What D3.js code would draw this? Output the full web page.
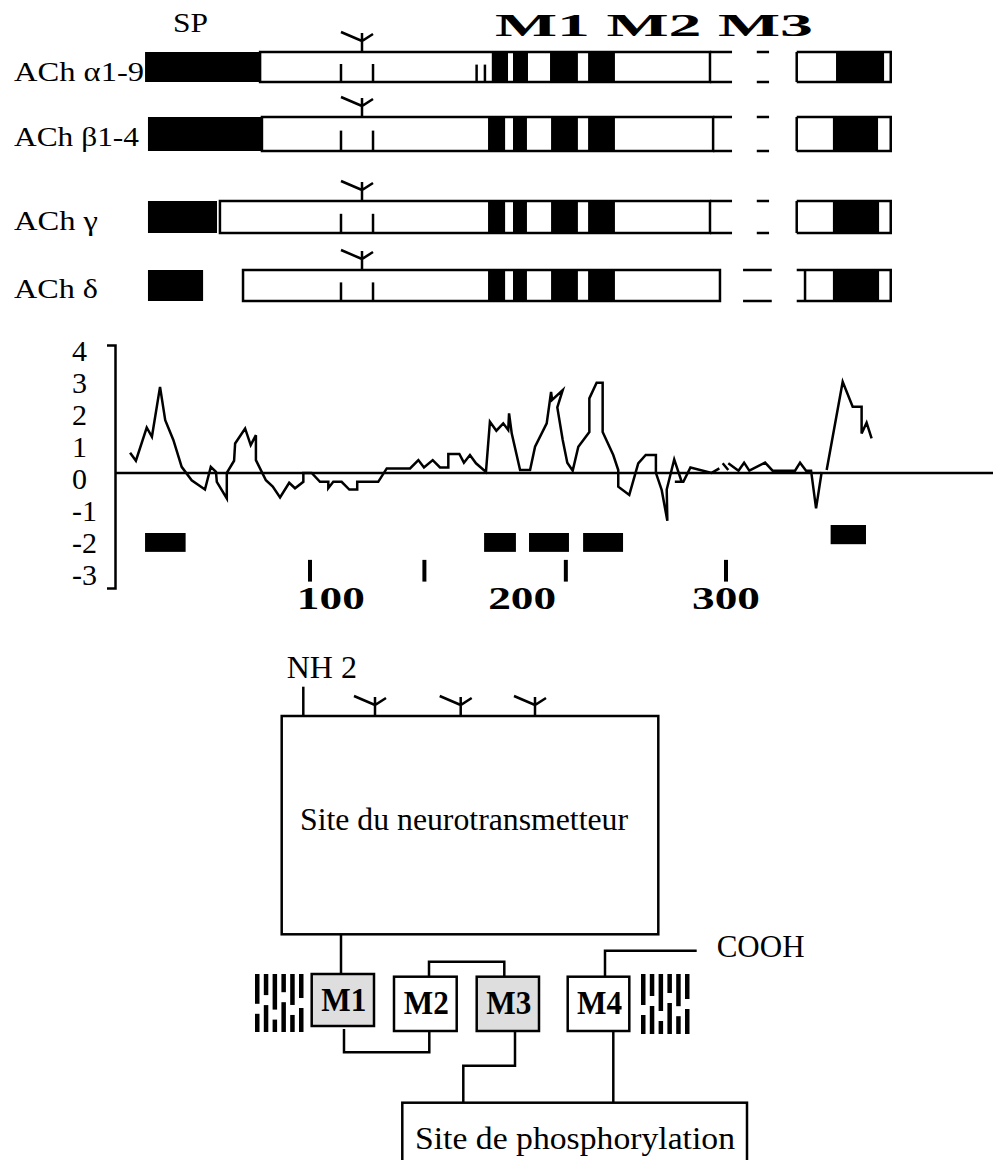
<!DOCTYPE html>
<html>
<head>
<meta charset="utf-8">
<style>
  body { margin: 0; background: #fff; }
  svg { display: block; }
  text { font-family: "Liberation Serif", "Times New Roman", serif; fill: #000; }
</style>
</head>
<body>
<div id="chart"></div>
<script src="https://d3js.org/d3.v7.min.js"></script>
<script>
// ---- data: subunit maps (positions in residue units) ----
const subunits   = ["ACh α1-9", "ACh β1-4", "ACh γ", "ACh δ"];
const spStart    = [20.7, 22.1, 22.1, 22.1];
const spEnd      = [76.0, 76.9, 55.3, 48.6];
const boxStart   = [76.0, 76.9, 56.7, 67.8];
const boxEnd     = [292.3, 293.8, 292.3, 297.1];
const boxLineEnd = [302.9, 302.9, 302.9, 297.1];
const tmBlocks = [
  [[187.4, 195.2], [197.6, 204.8], [215.4, 228.8], [233.7, 246.6]],
  [[185.6, 193.8], [197.6, 204.3], [215.9, 228.8], [233.7, 246.6]],
  [[185.6, 193.8], [197.6, 204.3], [215.9, 228.8], [233.7, 246.6]],
  [[185.6, 193.8], [197.6, 204.3], [215.9, 228.8], [233.7, 246.6]]
];
const cysTicks   = [114.9, 130.3];
const alphaTicks = [180.1, 184.1];
const glycoSite  = 125;
const dashes     = [[314.8, 320.7], [314.8, 320.7], [314.8, 320.7], [308.2, 322.0]];
const cBox       = [[334.0, 379.2], [334.0, 379.2], [334.0, 379.2], [334.0, 379.2]];
const cBoxLeft   = [334.0, 334.0, 334.0, 338.0];
const cBlack     = [[352.9, 376.0], [351.4, 373.1], [351.4, 373.6], [351.4, 373.6]];

// ---- data: hydropathy profile (null = break in the trace) ----
const hydroRes = [13.5, 16.3, 21.5, 24.0, 27.9, 30.4, 34.3, 38.3, 43.1, 49.5, 52.3, 54.8, 55.2, 60.0, 60.0,
  63.5, 64.0, 68.8, 71.5, 74.0, 74.0, 78.8, 82.1, 85.6, 90.0, 92.8, 96.8, 96.8, 100.8, 104.8, 108.8, 108.8,
  111.2, 115.2, 118.9, 122.7, 122.7, 132.8, 136.9, 148.1, 152.1, 154.8, 159.0, 162.5, 166.5, 166.5, 171.8,
  174.0, 176.9, 179.8, 184.6, 186.5, 189.6, 192.9, 195.3, 195.7, 197.0, 201.0, 205.8, 208.2, 213.8, 215.9,
  216.4, 221.5, 218.9, 221.5, 223.7, 226.3, 229.0, 234.3, 234.3, 237.8, 240.7, 240.7, 245.8, 248.2, 248.2,
  253.5, 257.8, 261.4, 266.3, 266.3, 269.1, 271.8, 271.5, 275.1, 278.7, 275.4, 279.5, 282.9, 293.1, 296.8,
  null, 298.4, 301.1,
  null, 301.1, 306.0, 308.7, 311.2, 318.8, 322.4, 333.2, 335.6, 338.5, 340.9, 343.3, 346.0,
  null, 348.4, 356.1, 360.9, 365.2, 365.2, 367.6, 370.0];
const hydroVal = [0.63, 0.38, 1.42, 1.13, 2.69, 1.65, 1.03, 0.19, -0.23, -0.52, 0.19, 0.03, -0.28, -0.80, 0,
  0.38, 0.92, 1.39, 0.87, 1.18, 0.40, -0.23, -0.43, -0.77, -0.31, -0.48, -0.28, 0, 0, -0.28, -0.28, -0.48,
  -0.28, -0.28, -0.52, -0.52, -0.28, -0.28, 0.14, 0.14, 0.40, 0.17, 0.40, 0.17, 0.17, 0.59, 0.59,
  0.32, 0.56, 0.30, 0.03, 1.60, 1.32, 1.55, 1.34, 1.86, 1.23, 0.09, 0.09, 0.82, 1.55, 2.53,
  2.28, 2.59, 2.05, 1.03, 0.32, 0.07, 0.82, 1.28, 2.33, 2.82, 2.82, 1.28, 0.56, 0.09, -0.43,
  -0.69, 0.30, 0.56, 0.56, 0, -0.54, -1.50, -0.52, 0.42, -0.28, -0.28, -0.28, 0.17, 0, 0.14,
  null, 0.30, 0.09,
  null, 0.30, 0.07, 0.32, 0.07, 0.32, 0.07, 0.07, 0.32, 0.07, 0.07, -1.11, 0.03,
  null, 0.09, 2.85, 2.07, 2.07, 1.23, 1.57, 1.08];

// hydrophobic segments under the profile
const segStart  = [20.7, 183.7, 205.3, 231.3, 350.3];
const segEnd    = [40.2, 199.0, 224.5, 250.5, 367.3];
const segTop    = [-1.88, -1.88, -1.88, -1.88, -1.63];
const segBottom = [-2.47, -2.47, -2.47, -2.47, -2.23];

const yTickVals   = [4, 3, 2, 1, 0, -1, -2, -3];
const xTickRes    = [100, 155, 223, 300];
const xLabels     = ["100", "200", "300"];
const xLabelRes   = [110, 202, 300];

// ---- layout ----
const W = 993, H = 1160;
const rowTop = [52, 117, 201, 270];
const rowH   = [30, 34, 32, 31];
const labelBase = [81, 146, 230, 298];
const labelLen  = [130, 125, 84, 84];
const SW = 2.5;

const svg = d3.select("#chart").append("svg")
  .attr("width", W).attr("height", H);

const x = d3.scaleLinear().domain([0, 300]).range([102, 726]);
const y = d3.scaleLinear().domain([-3.6, 4]).range([588, 345]);

function glyco(g, cx, base) {
  g.append("path")
    .attr("d", `M${cx},${base}V${base - 19}M${cx - 21},${base - 20}L${cx},${base - 11}L${cx + 11},${base - 18}`)
    .attr("fill", "none").attr("stroke", "#000").attr("stroke-width", SW);
}

// ---- top: subunit maps ----
const maps = svg.append("g");

maps.append("text").attr("x", 173).attr("y", 32)
  .attr("font-size", 28).attr("textLength", 35).attr("lengthAdjust", "spacingAndGlyphs")
  .text("SP");
maps.append("text").attr("x", 495).attr("y", 36)
  .attr("font-size", 32).attr("font-weight", "bold")
  .attr("textLength", 318).attr("lengthAdjust", "spacingAndGlyphs")
  .text("M1 M2 M3");

subunits.forEach((name, i) => {
  const t = rowTop[i], h = rowH[i], b = t + h;
  const g = maps.append("g");

  g.append("text").attr("x", 14).attr("y", labelBase[i])
    .attr("font-size", 28)
    .attr("textLength", labelLen[i]).attr("lengthAdjust", "spacingAndGlyphs")
    .text(name);

  // signal peptide
  g.append("rect").attr("x", x(spStart[i])).attr("y", t)
    .attr("width", x(spEnd[i]) - x(spStart[i])).attr("height", h).attr("fill", "#000");

  // main extracellular box
  g.append("rect").attr("x", x(boxStart[i])).attr("y", t)
    .attr("width", x(boxEnd[i]) - x(boxStart[i])).attr("height", h)
    .attr("fill", "#fff").attr("stroke", "#000").attr("stroke-width", SW);
  if (boxLineEnd[i] > boxEnd[i]) {
    g.append("path")
      .attr("d", `M${x(boxEnd[i])},${t}H${x(boxLineEnd[i])}M${x(boxEnd[i])},${b}H${x(boxLineEnd[i])}`)
      .attr("stroke", "#000").attr("stroke-width", SW);
  }

  // transmembrane blocks
  g.selectAll(".tm").data(tmBlocks[i]).enter().append("rect")
    .attr("x", d => x(d[0])).attr("y", t - 1)
    .attr("width", d => x(d[1]) - x(d[0])).attr("height", h + 2)
    .attr("fill", "#000");

  // cysteine ticks
  const ticks = i === 0 ? cysTicks.concat(alphaTicks) : cysTicks;
  g.selectAll(".cys").data(ticks).enter().append("line")
    .attr("x1", d => x(d)).attr("x2", d => x(d))
    .attr("y1", (d, k) => k < 2 ? t + h * 0.4 : t + h * 0.42).attr("y2", b)
    .attr("stroke", "#000").attr("stroke-width", SW);

  glyco(g, x(glycoSite), t);

  // dashed gap
  g.append("path")
    .attr("d", `M${x(dashes[i][0])},${t}H${x(dashes[i][1])}M${x(dashes[i][0])},${b}H${x(dashes[i][1])}`)
    .attr("stroke", "#000").attr("stroke-width", SW);

  // C-terminal box
  g.append("path")
    .attr("d", `M${x(cBox[i][0])},${t}H${x(cBox[i][1])}V${b}H${x(cBox[i][0])}M${x(cBoxLeft[i])},${t}V${b}`)
    .attr("fill", "none").attr("stroke", "#000").attr("stroke-width", SW);
  g.append("rect").attr("x", x(cBlack[i][0])).attr("y", t)
    .attr("width", x(cBlack[i][1]) - x(cBlack[i][0])).attr("height", h).attr("fill", "#000");
});

// ---- middle: hydropathy profile ----
const plot = svg.append("g");

plot.append("g").attr("transform", "translate(115,0)")
  .call(d3.axisLeft(y).tickValues([]).tickSizeOuter(8))
  .call(a => a.select(".domain").attr("stroke-width", SW));

plot.selectAll(".ylab").data(yTickVals).enter().append("text")
  .attr("x", 72).attr("y", d => y(d) + 16)
  .attr("font-size", 30)
  .text(d => d);

plot.append("line")
  .attr("x1", 115).attr("x2", W).attr("y1", y(0)).attr("y2", y(0))
  .attr("stroke", "#000").attr("stroke-width", SW);

const pts = hydroRes.map((r, i) => ({ r: r, v: hydroVal[i] }));
const line = d3.line()
  .defined(d => d.r !== null)
  .x(d => x(d.r)).y(d => y(d.v));
plot.append("path").datum(pts)
  .attr("d", line)
  .attr("fill", "none").attr("stroke", "#000").attr("stroke-width", SW)
  .attr("stroke-linejoin", "miter");

plot.selectAll(".seg").data(segStart).enter().append("rect")
  .attr("x", (d, i) => x(d)).attr("y", (d, i) => y(segTop[i]))
  .attr("width", (d, i) => x(segEnd[i]) - x(d))
  .attr("height", (d, i) => y(segBottom[i]) - y(segTop[i]))
  .attr("fill", "#000");

plot.selectAll(".xt").data(xTickRes).enter().append("line")
  .attr("x1", d => x(d)).attr("x2", d => x(d))
  .attr("y1", y(-2.72)).attr("y2", y(-3.4))
  .attr("stroke", "#000").attr("stroke-width", 4);

plot.selectAll(".xl").data(xLabels).enter().append("text")
  .attr("x", (d, i) => x(xLabelRes[i])).attr("y", 609)
  .attr("text-anchor", "middle")
  .attr("font-size", 31).attr("font-weight", "bold")
  .attr("textLength", 68).attr("lengthAdjust", "spacingAndGlyphs")
  .text(d => d);

// ---- bottom: topology scheme ----
const sch = svg.append("g").attr("fill", "none").attr("stroke", "#000").attr("stroke-width", SW);

sch.append("rect").attr("x", 281.7).attr("y", 716).attr("width", 376.6).attr("height", 218.3)
  .attr("fill", "#fff");
sch.append("path").attr("d", "M303.3,686.7V716");
[375, 460.7, 535].forEach(cx => glyco(sch, cx, 716));

svg.append("text").attr("x", 286.7).attr("y", 678).attr("font-size", 32).text("NH 2");
svg.append("text").attr("x", 300).attr("y", 830).attr("font-size", 32)
  .attr("textLength", 328).attr("lengthAdjust", "spacingAndGlyphs")
  .text("Site du neurotransmetteur");

const mBoxes = [
  { name: "M1", x0: 311.7, x1: 374, y0: 974, y1: 1026, fill: "#dedede" },
  { name: "M2", x0: 394, x1: 456.7, y0: 976.7, y1: 1031, fill: "#fff" },
  { name: "M3", x0: 476.7, x1: 539, y0: 976.7, y1: 1031, fill: "#dedede" },
  { name: "M4", x0: 567.7, x1: 629.3, y0: 976.7, y1: 1031, fill: "#fff" }
];
mBoxes.forEach(m => {
  sch.append("rect").attr("x", m.x0).attr("y", m.y0)
    .attr("width", m.x1 - m.x0).attr("height", m.y1 - m.y0).attr("fill", m.fill);
  svg.append("text").attr("x", (m.x0 + m.x1) / 2 + 1).attr("y", m.y0 + 37)
    .attr("text-anchor", "middle").attr("font-size", 34).attr("font-weight", "bold")
    .attr("textLength", 45).attr("lengthAdjust", "spacingAndGlyphs")
    .text(m.name);
});

sch.append("path").attr("d", "M341,934.3V974");
sch.append("path").attr("d", "M429,976.7V961.7H504.3V976.7");
sch.append("path").attr("d", "M344,1029V1052.3H429.3V1031");
sch.append("path").attr("d", "M515,1031V1065.7H463.3V1102.7");
sch.append("path").attr("d", "M613.3,1031V1102.7");
sch.append("path").attr("d", "M605,976.7V950.7H696.7");
svg.append("text").attr("x", 716.7).attr("y", 957).attr("font-size", 31).text("COOH");

sch.append("rect").attr("x", 402.3).attr("y", 1102.7).attr("width", 344.7).attr("height", 80)
  .attr("fill", "#fff");
svg.append("text").attr("x", 415).attr("y", 1149).attr("font-size", 32)
  .attr("textLength", 320).attr("lengthAdjust", "spacingAndGlyphs")
  .text("Site de phosphorylation");

// membrane bilayer motifs
const lipidGap = [0.60, 0.45, 0.70, 0.40, 0.62, 0.50];
function bilayer(x0, yTop, yBot) {
  const colW = 4.5, step = 8.8;
  lipidGap.forEach((gp, k) => {
    const cx = x0 + k * step;
    const ym = yTop + (yBot - yTop) * gp;
    svg.append("rect").attr("x", cx).attr("y", yTop).attr("width", colW).attr("height", ym - 5 - yTop).attr("fill", "#000");
    svg.append("rect").attr("x", cx).attr("y", ym + 5).attr("width", colW).attr("height", yBot - ym - 5).attr("fill", "#000");
  });
}
bilayer(255, 974, 1032);
bilayer(641, 974, 1034);
</script>
</body>
</html>
